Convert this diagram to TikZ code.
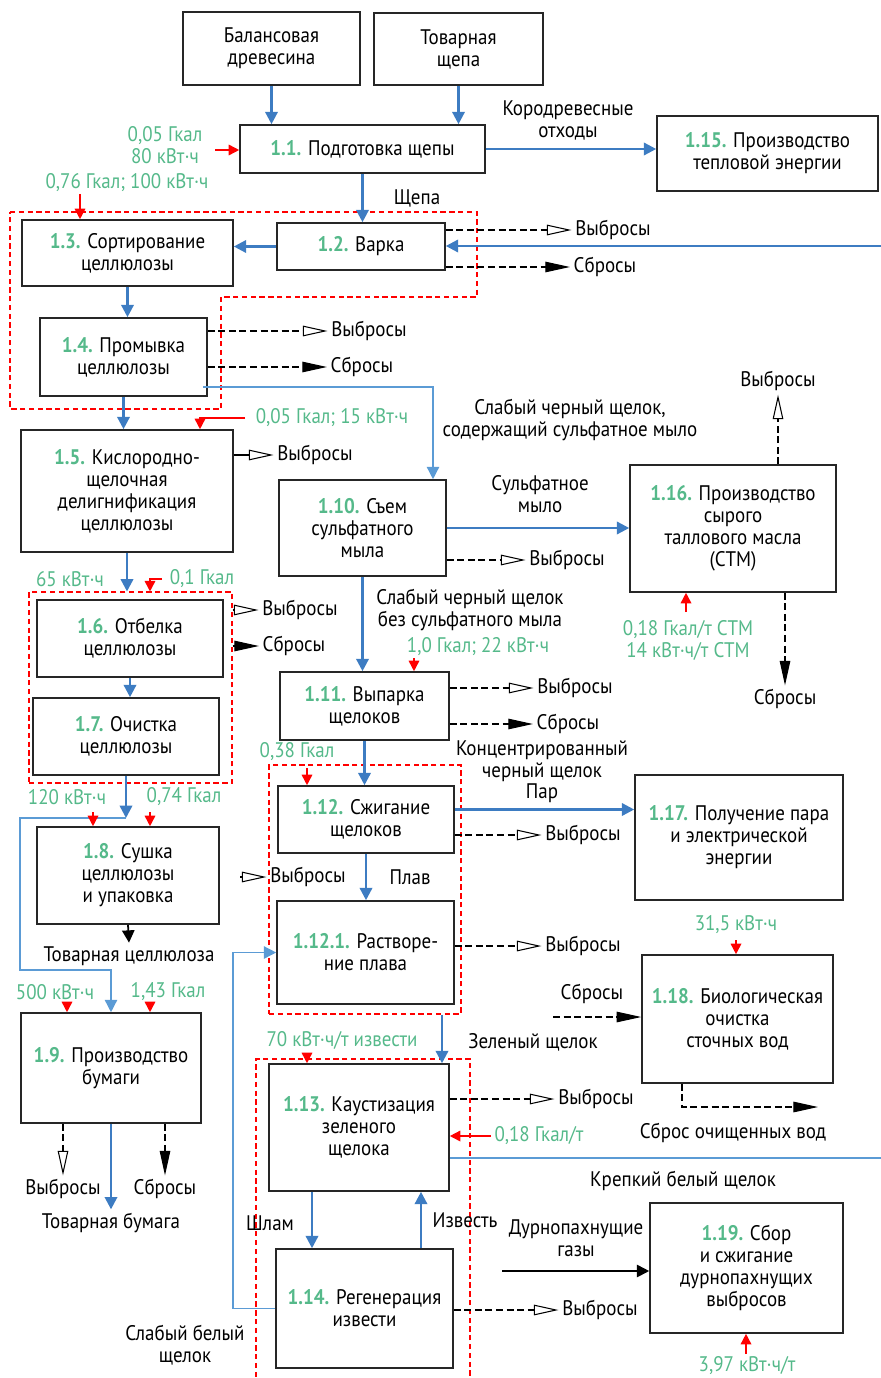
\documentclass[tikz,border=0pt]{standalone}
\usepackage{fontspec}
\setmainfont[FakeStretch=0.9]{PT Sans}
\usetikzlibrary{arrows.meta}
\definecolor{flowblue}{HTML}{3D7CC2}
\definecolor{paleblue}{HTML}{5B9BD5}
\definecolor{valgreen}{HTML}{55B98A}
\newcommand{\nr}[1]{\textcolor{valgreen}{\bfseries #1}}

\begin{document}
\begin{tikzpicture}[x=0.02cm, y=-0.02cm, font=\fontsize{12}{12.5}\selectfont,
  box/.style={draw=black!85, line width=0.9pt, align=center, inner sep=1pt},
  sz/.style 2 args={minimum width=#1*0.02cm, minimum height=#2*0.02cm},
  lbl/.style={align=center, inner sep=2pt},
  val/.style={align=center, inner sep=2pt, text=valgreen},
  zone/.style={draw=red, line width=0.6pt, dash pattern=on 3pt off 2pt},
  flow/.style={draw=flowblue, line width=1.4pt, -{Triangle[length=7pt, width=7pt]}},
  thinflow/.style={draw=paleblue, line width=0.8pt, -{Triangle[length=7pt, width=7pt]}},
  heat/.style={draw=red, line width=0.9pt, -{Triangle[length=6pt, width=6pt]}},
  vyb/.style={draw=black, line width=0.6pt, dash pattern=on 4pt off 2pt, -{Triangle[open, length=14pt, width=6pt]}},
  vybsolid/.style={draw=black, line width=0.6pt, -{Triangle[open, length=14pt, width=6pt]}},
  sbr/.style={draw=black, line width=0.6pt, dash pattern=on 4pt off 2pt, -{Triangle[length=14pt, width=6pt]}},
  blk/.style={draw=black, line width=1pt, -{Triangle[length=7pt, width=7pt]}}]
\useasboundingbox (0,0) rectangle (881,1378);

% zones
\draw[zone] (10,212) -- (477,212) -- (477,297) -- (221,297) -- (221,409) -- (10,409) -- cycle;
\node[zone, sz={203}{191}] (zone2) at (130.5,687.5) {};
\node[zone, sz={192}{249}] (zone3) at (365,889.5) {};
\node[zone, sz={214}{331}] (zone4) at (363,1224.5) {};

% boxes
\node[box, sz={177}{73}] (bal) at (271.5,48.5) {Балансовая\\древесина};
\node[box, sz={169}{72}] (tov) at (458.5,49) {Товарная\\щепа};
\node[box, sz={245}{48}] (p11) at (362.5,149) {\nr{1.1.} Подготовка щепы};
\node[box, sz={221}{75}] (p115) at (767.5,153.5) {\nr{1.15.} Производство\\тепловой энергии};
\node[box, sz={168}{47}] (p12) at (361,246.5) {\nr{1.2.} Варка};
\node[box, sz={211}{66}] (p13) at (127.5,253) {\nr{1.3.} Сортирование\\целлюлозы};
\node[box, sz={167}{78}] (p14) at (123.5,357) {\nr{1.4.} Промывка\\целлюлозы};
\node[box, sz={212}{122}] (p15) at (127,491) {\nr{1.5.} Кислородно-\\щелочная\\делигнификация\\целлюлозы};
\node[box, sz={167}{96}] (p110) at (362.5,528) {\nr{1.10.} Съем\\сульфатного\\мыла};
\node[box, sz={206}{127}] (p116) at (733,528.5) {\nr{1.16.} Производство\\сырого\\таллового масла\\(СТМ)};
\node[box, sz={186}{77}] (p16) at (130,638.5) {\nr{1.6.} Отбелка\\целлюлозы};
\node[box, sz={186}{77}] (p17) at (126,736.5) {\nr{1.7.} Очистка\\целлюлозы};
\node[box, sz={169}{68}] (p111) at (364.5,706) {\nr{1.11.} Выпарка\\щелоков};
\node[box, sz={176}{67}] (p112) at (366,819.5) {\nr{1.12.} Сжигание\\щелоков};
\node[box, sz={177}{103}] (p1121) at (365.5,952.5) {\nr{1.12.1.} Растворе-\\ние плава};
\node[box, sz={208}{125}] (p117) at (739,837.5) {\nr{1.17.} Получение пара\\и электрической\\энергии};
\node[box, sz={182}{97}] (p18) at (128,875.5) {\nr{1.8.} Сушка\\целлюлозы\\и упаковка};
\node[box, sz={180}{110}] (p19) at (111,1068) {\nr{1.9.} Производство\\бумаги};
\node[box, sz={191}{128}] (p118) at (737.5,1019) {\nr{1.18.} Биологическая\\очистка\\сточных вод};
\node[box, sz={180}{127}] (p113) at (359,1127.5) {\nr{1.13.} Каустизация\\зеленого\\щелока};
\node[box, sz={177}{119}] (p114) at (364.5,1308.5) {\nr{1.14.} Регенерация\\извести};
\node[box, sz={193}{130}] (p119) at (746.5,1268) {\nr{1.19.} Сбор\\и сжигание\\дурнопахнущих\\выбросов};

% flow labels
\node[lbl] (kd) at (568,120) {Кородревесные\\отходы};
\node[lbl] (shch) at (417,198) {Щепа};
\node[lbl] (v12) at (613,230) {Выбросы};
\node[lbl] (s12) at (605,267) {Сбросы};
\node[lbl] (v14) at (369,331) {Выбросы};
\node[lbl] (s14) at (362,367) {Сбросы};
\node[lbl] (sch1) at (570,420) {Слабый черный щелок,\\содержащий сульфатное мыло};
\node[lbl] (v15) at (315,455) {Выбросы};
\node[lbl] (sm) at (540,494) {Сульфатное\\мыло};
\node[lbl] (v110) at (567,560) {Выбросы};
\node[lbl] (v116) at (778,381) {Выбросы};
\node[lbl] (s116) at (785,699) {Сбросы};
\node[lbl] (sch2) at (470,610) {Слабый черный щелок\\без сульфатного мыла};
\node[lbl] (v16) at (300,610) {Выбросы};
\node[lbl] (s16) at (294,646) {Сбросы};
\node[lbl] (v111) at (575,688) {Выбросы};
\node[lbl] (s111) at (568,724) {Сбросы};
\node[lbl] (kch) at (542,761) {Концентрированный\\черный щелок};
\node[lbl] (par) at (542,793) {Пар};
\node[lbl] (v112) at (583,835) {Выбросы};
\node[lbl] (v18) at (308,877) {Выбросы};
\node[lbl] (plav) at (410,877) {Плав};
\node[lbl] (tc) at (129,956) {Товарная целлюлоза};
\node[lbl] (v1121) at (583,946) {Выбросы};
\node[lbl] (s118) at (592,994) {Сбросы};
\node[lbl] (zsch) at (533,1042) {Зеленый щелок};
\node[lbl] (sov) at (733,1133) {Сброс очищенных вод};
\node[lbl] (v113) at (596,1099) {Выбросы};
\node[lbl] (kbsch) at (683,1181) {Крепкий белый щелок};
\node[lbl] (v19) at (63,1189) {Выбросы};
\node[lbl] (s19) at (165,1189) {Сбросы};
\node[lbl] (tb) at (111,1223) {Товарная бумага};
\node[lbl] (shl) at (270,1223) {Шлам};
\node[lbl] (izv) at (465,1220) {Известь};
\node[lbl] (dpg) at (576,1238) {Дурнопахнущие\\газы};
\node[lbl] (v114) at (600,1310) {Выбросы};
\node[lbl] (sbsch) at (185,1345) {Слабый белый\\щелок};

% energy values
\node[val] (e11) at (165,145) {0,05 Гкал\\80 кВт·ч};
\node[val] (e13) at (127,183) {0,76 Гкал; 100 кВт·ч};
\node[val] (e15) at (332,418) {0,05 Гкал; 15 кВт·ч};
\node[val] (e16a) at (70,579) {65 кВт·ч};
\node[val] (e16b) at (202,579) {0,1 Гкал};
\node[val] (e116) at (688,640) {0,18 Гкал/т СТМ\\14 кВт·ч/т СТМ};
\node[val] (e111) at (478,647) {1,0 Гкал; 22 кВт·ч};
\node[val] (e112) at (297,752) {0,38 Гкал};
\node[val] (e18a) at (67,797) {120 кВт·ч};
\node[val] (e18b) at (184,797) {0,74 Гкал};
\node[val] (e19a) at (55,992) {500 кВт·ч};
\node[val] (e19b) at (168,992) {1,43 Гкал};
\node[val] (e118) at (736,925) {31,5 кВт·ч};
\node[val] (e113a) at (342,1040) {70 кВт·ч/т извести};
\node[val] (e113b) at (539,1136) {0,18 Гкал/т};
\node[val] (e119) at (747,1366) {3,97 кВт·ч/т};

% free ends
\coordinate (rt) at (881,246);
\coordinate (h11) at (215,150);
\coordinate (h13) at (80,194);
\coordinate (w14) at (203,387);
\coordinate (w110) at (433,0);
\coordinate (h15) at (245,418);
\coordinate (h15b) at (200,0);
\coordinate (h116) at (686,612);
\coordinate (h111) at (414,658);
\coordinate (h16) at (162,579);
\coordinate (h16b) at (150,0);
\coordinate (j8) at (125,818);
\coordinate (j9) at (20,970);
\coordinate (h18a) at (93,812);
\coordinate (h18b) at (150,812);
\coordinate (h19a) at (67,1004);
\coordinate (h19b) at (150,1002);
\coordinate (e18) at (240,877);
\coordinate (h112) at (307,768);
\coordinate (wl) at (233,0);
\coordinate (gl) at (442,0);
\coordinate (s118a) at (553,1017);
\coordinate (h118) at (736,940);
\coordinate (cl) at (682,0);
\coordinate (cw) at (818,1107);
\coordinate (h113) at (307,1059);
\coordinate (kb) at (881,1158);
\coordinate (sl) at (312,0);
\coordinate (iz) at (421,0);
\coordinate (dg) at (502,1271);
\coordinate (h119) at (746,1354);

% main flows
\draw[flow] (bal.south) -- (bal.south |- p11.north);
\draw[flow] (tov.south) -- (tov.south |- p11.north);
\draw[flow] (p11.east) -- (p115.west |- p11.east);
\draw[flow] (p11.south) -- (p11.south |- p12.north);
\draw[flow] (p12.west) -- (p13.east |- p12.west);
\draw[flow] (rt) -- (p12.east |- rt);
\draw[flow] (p13.south) -- (p13.south |- p14.north);
\draw[flow] (p14.south) -- (p14.south |- p15.north);
\draw[thinflow] (w14) -| (w110 |- p110.north);
\draw[flow] (p110.east) -- (p116.west |- p110.east);
\draw[flow] (p110.south) -- (p110.south |- p111.north);
\draw[flow] (p15.south) -- (p15.south |- zone2.north);
\draw[flow] (p16.south) -- (p16.south |- p17.north);
\draw[flow] (p17.south) -- (p17.south |- j8);
\draw[thinflow] (p17.south |- j8) -| (j9) -| (p19.north);
\draw[blk] (p18.south) -- (tc.north);
\draw[flow] (p19.south) -- (tb.north);
\draw[flow] (p111.south) -- (p111.south |- p112.north);
\draw[flow] ([yshift=0.2cm]p112.east) -- ([yshift=0.2cm]p112.east -| p117.west);
\draw[flow] (p112.south) -- (p112.south |- p1121.north);
\draw[thinflow] (p114.west) -| (wl |- p1121.west) -- (p1121.west);
\draw[flow] (gl |- zone3.south) -- (gl |- p113.north);
\draw[flow] (sl |- p113.south) -- (sl |- p114.north);
\draw[flow] (iz |- p114.north) -- (iz |- p113.south);
\draw[draw=paleblue, line width=0.8pt] (kb) -- (kb -| p113.east);
\draw[blk] (dg) -- (dg -| p119.west);

% energy inputs
\draw[heat] (h11) -- (p11.west |- h11);
\draw[heat] (h13) -- (h13 |- p13.north);
\draw[heat] (h15) -| (h15b |- p15.north);
\draw[heat] (h116) -- (h116 |- p116.south);
\draw[heat] (h111) -- (h111 |- p111.north);
\draw[heat] (h16) -| (h16b |- zone2.north);
\draw[heat] (h18a) -- (h18a |- p18.north);
\draw[heat] (h18b) -- (h18b |- p18.north);
\draw[heat] (h19a) -- (h19a |- p19.north);
\draw[heat] (h19b) -- (h19b |- p19.north);
\draw[heat] (h112) -- (h112 |- p112.north);
\draw[heat] (h118) -- (h118 |- p118.north);
\draw[heat] (h113) -- (h113 |- p113.north);
\draw[heat] (e113b.west) -- (p113.east |- e113b.west);
\draw[heat] (h119) -- (h119 |- p119.south);

% emissions and discharges
\draw[vyb] (p12.east |- v12) -- (v12.west);
\draw[sbr] (p12.east |- s12) -- (s12.west);
\draw[vyb] (p14.east |- v14) -- (v14.west);
\draw[sbr] (p14.east |- s14) -- (s14.west);
\draw[vybsolid] (p15.east |- v15) -- (v15.west);
\draw[vyb] (p110.east |- v110) -- (v110.west);
\draw[vyb] (p116.north -| v116) -- (v116.south);
\draw[sbr] (p116.south -| s116) -- (s116.north);
\draw[vybsolid] (zone2.east |- v16) -- (v16.west);
\draw[sbr, solid] (zone2.east |- s16) -- (s16.west);
\draw[vyb] (p111.east |- v111) -- (v111.west);
\draw[sbr] (p111.east |- s111) -- (s111.west);
\draw[vyb] (p112.east |- v112) -- (v112.west);
\draw[vybsolid] (e18) -- (v18.west);
\draw[vyb] (p1121.east |- v1121) -- (v1121.west);
\draw[sbr] (s118a) -- (s118a -| p118.west);
\draw[sbr] (cl |- p118.south) |- (cw);
\draw[vyb] (p113.east |- v113) -- (v113.west);
\draw[vyb] (p19.south -| v19) -- (v19.north);
\draw[sbr] (p19.south -| s19) -- (s19.north);
\draw[vyb] (p114.east |- v114) -- (v114.west);
\end{tikzpicture}
\end{document}
